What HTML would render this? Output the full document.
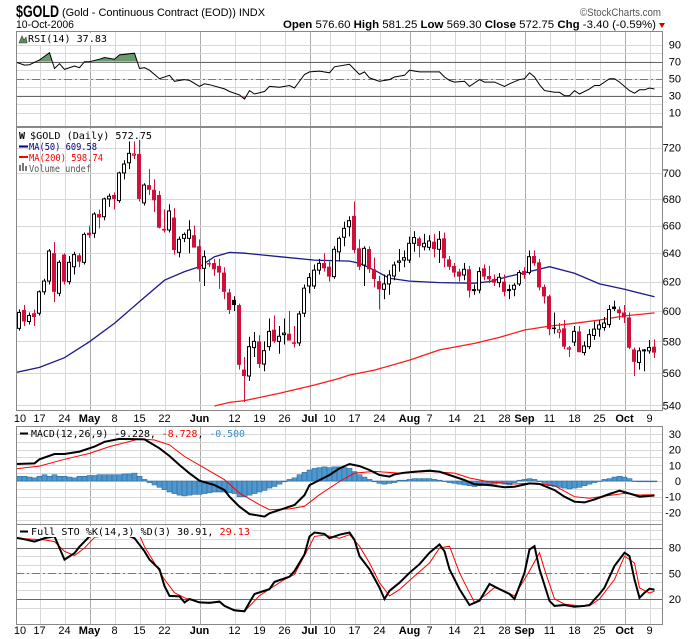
<!DOCTYPE html>
<html><head><meta charset="utf-8"><style>
html,body{margin:0;padding:0;background:#fff;}
svg{display:block;}
.ax{font-family:"Liberation Sans",sans-serif;font-size:11px;fill:#000;}
.lg{font-family:"DejaVu Sans Mono","Liberation Mono",monospace;font-size:10px;}
</style></head><body>
<svg id="chart" width="700" height="639" viewBox="0 0 700 639" xmlns="http://www.w3.org/2000/svg">
<defs>
<clipPath id="clipRsi"><rect x="16" y="31" width="646" height="96"/></clipPath>
<clipPath id="clipMain"><rect x="16" y="127" width="646" height="283"/></clipPath>
<clipPath id="clipMacd"><rect x="16" y="426" width="646" height="98"/></clipPath>
<clipPath id="clipSto"><rect x="16" y="524" width="646" height="100"/></clipPath>
</defs>
<rect x="0" y="0" width="700" height="639" fill="#fff"/>
<text x="16" y="17" font-family="Liberation Sans,sans-serif" font-weight="bold" font-size="17" textLength="43" lengthAdjust="spacingAndGlyphs">$GOLD</text>
<text x="62" y="16" class="ax" font-size="11" textLength="203" lengthAdjust="spacingAndGlyphs">(Gold - Continuous Contract (EOD)) INDX</text>
<text x="580" y="16" class="ax" fill="#555" style="fill:#555" textLength="81" lengthAdjust="spacingAndGlyphs">©StockCharts.com</text>
<text x="16" y="28" class="ax" textLength="58" lengthAdjust="spacingAndGlyphs">10-Oct-2006</text>
<text x="283" y="28" class="ax" textLength="373" lengthAdjust="spacingAndGlyphs"><tspan font-weight="bold">Open</tspan> 576.60 <tspan font-weight="bold">High</tspan> 581.25 <tspan font-weight="bold">Low</tspan> 569.30 <tspan font-weight="bold">Close</tspan> 572.75 <tspan font-weight="bold">Chg</tspan> -3.40 (-0.59%)</text>
<polygon points="659,23 665,23 662,28" fill="#cc0000"/>
<g id="grid"></g>
<g id="rsiG" clip-path="url(#clipRsi)"></g>
<g id="mainG" clip-path="url(#clipMain)"></g>
<g id="macdG" clip-path="url(#clipMacd)"></g>
<g id="stoG" clip-path="url(#clipSto)"></g>
<g id="frames" fill="none" stroke="#888" stroke-width="1">
<rect x="16.5" y="31.5" width="646" height="95"/>
<rect x="16.5" y="127.5" width="646" height="283"/>
<rect x="16.5" y="426.5" width="646" height="98"/>
<rect x="16.5" y="524.5" width="646" height="100"/>
</g>
<g id="axes"></g>
<g>
<rect x="18" y="33" width="92" height="12" fill="#fff"/>
<polygon points="19,43 22,36 24,40 26,37 27,43" fill="#5f8f5f" stroke="#333" stroke-width="0.6"/>
<text x="28" y="42" class="lg" textLength="79" lengthAdjust="spacingAndGlyphs">RSI(14) 37.83</text>
</g>
<g>
<rect x="18" y="129" width="136" height="11" fill="#fff" fill-opacity="0.8"/>
<text x="19" y="139" class="lg" font-weight="bold" font-size="9">W</text>
<text x="30" y="139" class="lg" textLength="122" lengthAdjust="spacingAndGlyphs">$GOLD (Daily) 572.75</text>
<line x1="19" y1="146.5" x2="28" y2="146.5" stroke="#000080" stroke-width="2"/>
<text x="29" y="150" class="lg" fill="#000080" textLength="68" lengthAdjust="spacingAndGlyphs">MA(50) 609.58</text>
<line x1="19" y1="157" x2="28" y2="157" stroke="#ff0000" stroke-width="2"/>
<text x="29" y="161" class="lg" fill="#ff0000" textLength="74" lengthAdjust="spacingAndGlyphs">MA(200) 598.74</text>
<rect x="19" y="165" width="2" height="6" fill="#777"/><rect x="22" y="163" width="2" height="8" fill="#777"/><rect x="25" y="166" width="2" height="5" fill="#777"/>
<text x="29" y="172" class="lg" fill="#555" textLength="62" lengthAdjust="spacingAndGlyphs">Volume undef</text>
</g>
<g>
<line x1="20" y1="433.5" x2="28" y2="433.5" stroke="#000" stroke-width="2"/>
<text x="31" y="437" class="lg" textLength="214" lengthAdjust="spacingAndGlyphs">MACD(12,26,9) -9.228, <tspan fill="#ff0000">-8.728</tspan>, <tspan fill="#3a8fc8">-0.500</tspan></text>
</g>
<g>
<rect x="18" y="526" width="234" height="11" fill="#fff"/>
<line x1="20" y1="531.5" x2="28" y2="531.5" stroke="#000" stroke-width="2"/>
<text x="31" y="535" class="lg" textLength="219" lengthAdjust="spacingAndGlyphs">Full STO %K(14,3) %D(3) 30.91, <tspan fill="#ff0000">29.13</tspan></text>
</g>
</svg>
<script>
// ---------- data ----------
const firstIndex = -1; // Apr 10 2006 (clipped at left edge)
const candleOpen = [596,588.5,600.7,593,598.5,598.5,613,620.4,640,612,639,620,630.4,638.5,633.5,654.8,654.4,668.6,666.6,680,683,678.7,700,708,714,715,677,690.6,687,683,657.5,656.8,666,640.6,650.7,650.7,653,645,629.3,633,633,631,626.3,612.6,607.5,604,562,558,576,580,565.5,576.6,587.6,580,584.4,585,579.4,579,598.5,617,617,628,633,630.4,623.5,641,651.5,659.2,667.2,643.5,631.6,643,628.6,620.4,614.7,618.4,623.9,633.5,635.1,635.1,647.1,650.7,644.6,644.2,648.3,642.8,650.7,635.6,630.9,627,624.6,628.6,614,614.2,629.3,623.9,621.8,619.3,620,614,614.7,618.4,627.5,626.3,638,633.5,616.4,610,589,586,588.5,575,579.6,586.5,572.8,576.6,583.8,588,589,591,603,601,599,595.7,574.8,566.5,573.9,573.9,576.6];
const candleHigh = [598,601,604,599,601,614,622,643,648,635,640,638,641,640,655,660,670,672,681,684,685,701,710,725,725,730,692,703,695,686,672,676,673,652,655,664,660,650,642,636,636,636,630,615,610,605,570,583,586,584,580,595,597,590,595,600,590,600,618,626,632,636,640,634,645,652,663,667,678,650,645,645,637,624,625,628,634,643,642,652,656,652,654,653,654,656,655,638,633,629,633,631,618,630,632,631,625,626,625,618,619,628,630,642,642,636,618,611,599,592,594,577,590,590,580,588,593,594,596,604,607,603,604,599,576,576,575,581,581.25];
const candleLow = [587,587,590,591,590,597,611,618,606,610,618,618,625,630,632,651,651,658,664,674,672,677,695,703,711,678,675,683,670,658,655,655,639,637,648,640,645,620,617,630,624,615,608,598,600,562,542,555,570,563,561,574,579,572,578,582,576,577,596,612,615,625,627,620,622,634,645,652,640,628,617,626,616,601,608,611,621,627,630,633,641,637,642,642,637,633,630,628,623,620,621,609,611,612,621,619,617,616,610,608,610,617,622,625,631,614,605,584,585,582,575,570,577,573,571,575,581,583,587,589,600,594,592,575,558,562,561,572,569.3];
const candleClose = [589,599,593,597,596,613,620.4,641.6,613,633.5,620,633.5,639,634,653.6,653,668.6,666,680,682,680,700,707,715.5,715,680,690.6,687,679,658.5,656.8,670.9,642.3,650,653.6,656.8,644,628.6,637.5,632,628.6,626.3,613,600.7,604,565,558,576.6,580,565.5,574,586.5,580,583.3,585.4,580.5,578.4,598,615.5,622.8,628,632.8,629.3,623.5,642.8,650.7,658,663.7,642.3,630.4,643.5,628.6,621.8,614.7,618.4,624.6,631.6,634.5,636.8,647.1,651.3,645.2,647.1,648.8,643,650,636.4,630.4,626.3,623.5,628.6,613.8,614.5,627,623.5,621.6,619.3,623,613,614.5,617.5,626.3,624.6,637.5,632.8,616,609.8,588,588.3,587.5,576.6,575.8,586.5,573,577,584.4,588,590.8,592,601,601.3,598.5,595.7,575.9,566.9,573.9,574.5,576,572.75];
const histVal = [3,3,3,2.5,2,3,4,3,4,3,3,2.5,2,3,3,3.5,3.5,4,4,4,4,4,4.5,4.5,5,3,1,-1,-2.5,-4,-5.5,-7,-8,-9,-9.5,-9,-8.5,-8.5,-8,-7.5,-7,-7,-7,-7.5,-8,-10,-10,-9,-8,-7,-6,-4.5,-3.5,-2,-0.5,1,2,4,5.5,7,8,8.5,9,8.5,9,9,8.5,8,6,4,2.5,1,-0.5,-1.5,-2,-1.5,-1,0.5,0.5,1,1.5,1.5,1.5,1.5,1,0.5,0,-1,-1.5,-2,-2.5,-3,-3.5,-3,-2.5,-2,-2,-1.5,-2,-2.5,-1,0.5,1,1.5,1,-0.5,-1.5,-3,-3.5,-4,-4.5,-5,-4.5,-4,-3,-2,-1,0,1,1.5,2.5,3,2.5,1.5,0,-0.5,-0.5,-0.5,-0.5];

const ma50Idx = [-1,4,9,14,19,24,29,33,36,39,42,45,52,59,66,68,71,74,78,84,91,94,98,101,106,111,116,121,127];
const ma50Val = [560,563.4,569.5,579.8,591.8,606.3,621,627,630.4,637.5,640.6,640,637.5,635.1,634.4,632.8,628,622.3,620.4,619.3,618.9,620,623.8,626.2,630.4,625.8,618.4,614.7,609.58];
const ma200Idx = [39,42,45,52,59,64,66,71,78,84,91,96,101,106,111,116,121,127];
const ma200Val = [539.6,541.8,542.9,547.3,552.4,556.5,558.6,561.7,568,574.5,578.7,582.6,587.4,590,591.8,594,596.7,598.74];

const rsiIdx = [-1,1,2,4,6,7,8,9,11,12,13,14,16,17,19,20,23,24,25,26,28,30,31,33,34,36,37,38,41,42,44,45,46,47,49,50,52,54,55,57,58,60,62,63,66,68,69,70,72,74,75,77,78,80,82,84,85,86,87,89,90,92,93,95,97,98,100,101,102,103,104,105,107,108,109,110,111,112,114,115,116,118,119,120,122,123,124,125,126,127];
const rsiVal = [70,66,66.5,72,80.6,62,67.6,61,65,63,70,70,73,75,73,78,80,62,63,60,50,54,47,49,48,41,44,43,38,35,31,26,36,32,35,41,40,42,39,55,58,59,57,64,67,55,58,51,47,49,52,54,60,58,58,58,52,48,46,47,41,49,46,46,41,44,49,50,57,52,43,36,34,34,30,30,36,32,38,42,42,50,50,46,36,33,37,37,39,37.83];

const macdIdx = [-1,3,4,7,9,12,15,17,20,25,28,30,32,34,36,39,41,42,44,46,49,50,53,55,57,58,60,62,64,66,68,70,72,74,75,77,79,82,84,86,89,91,94,97,99,102,104,107,109,111,113,115,118,120,123,124,127];
const macdVal = [10.8,11.2,13.8,17.2,17.2,18.7,21.9,25,26.8,26.5,20.8,15.9,10.2,4.9,0.2,-2.6,-5.8,-10,-16.4,-21,-22.7,-20.6,-17.4,-15.3,-9,-2.6,0.6,3.8,8,10.8,9.5,7,3.8,2.8,4.2,5.3,5.9,6.6,5.9,3.8,0.6,-2.1,-2.6,-4,-3.6,-1.5,-1.9,-5.8,-10,-13.2,-13.6,-11.7,-8.3,-6.2,-8.9,-10,-9.228];
const signalIdx = [-1,4,9,14,18,24,27,30,33,37,41,44,48,50,54,57,60,64,67,71,76,82,87,90,94,99,103,107,111,114,117,121,124,127];
const signalVal = [7.7,9.5,13.8,17.6,21.9,26.8,26.1,23,15.6,8.2,0.8,-7.7,-15.1,-18.3,-17.8,-16.1,-8.7,-0.3,5,6.1,5,6.1,5,1.9,-0.6,-1.9,-1.3,-3,-10,-11,-9.6,-7.9,-8.9,-8.728];

const stoKIdx = [-1,1,3,5,7,8,9,11,12,14,16,20,23,25,26,28,29,30,32,33,34,36,38,40,41,43,45,46,47,50,51,54,55,57,58,59,61,62,64,66,67,68,70,72,73,74,76,78,80,82,84,85,86,88,90,92,94,96,98,99,101,102,103,104,106,107,109,111,113,114,116,117,119,121,122,123,124,125,126,127];
const stoKVal = [92,89.7,87,91,93,79.5,66,73.6,81,93,96,98,91,75.7,66,54.6,35,23.6,23,16,20,16,15.5,17,12,6.7,5.6,16,25.8,31.6,40,46,52.7,72,93,97.6,96,91,95,97.6,89,70,54.6,33.3,20,29.6,39,50.6,60.6,74,83.6,75.7,54.6,31.6,13,18,37.5,31.6,25.8,20,50.6,77.8,81.6,54.6,17.8,12,13,11,12,13,25.8,33.3,58.6,74,70,42.7,21.4,27.4,32,30.91];
const stoDIdx = [-1,5,7,9,11,13,15,20,24,25,27,29,31,33,36,40,42,45,48,50,53,55,58,59,61,64,66,68,70,72,74,76,79,82,84,86,88,90,91,93,95,97,99,102,104,105,107,109,112,114,116,119,121,123,124,126,127];
const stoDVal = [91,89,87,75.7,70.8,79.5,92,96,94.6,81,62,42.7,27.4,21.4,16.4,16,8.6,5.6,23.9,31.6,42.7,48.7,81.6,93,94.6,91,95,81.6,62,39,23.6,31,46.8,62,79.5,81.6,50.6,27.4,16,23.6,33.3,29.4,23.6,52.7,74,54.6,20,14,12,12,20,42.7,70,62,33,27,29.13];

const priceTicks = [540,560,580,600,620,640,660,680,700,720];
const rsiTicks = [10,30,50,70,90];
const macdTicks = [-20,-10,0,10,20,30];
const stoTicks = [20,50,80];
const dateLabels = ['10','17','24','May','8','15','22','Jun','12','19','26','Jul','10','17','24','Aug','7','14','21','28','Sep','11','18','25','Oct','9'];
const dateIdx = [-1,4,9,14,19,24,29,36,43,48,53,58,62,67,72,78,82,87,92,97,101,106,111,116,121,126];

// ---------- axis functions ----------
const L = 16, R = 662;
const xDay = i => 19.5 + 5 * i;
const yPrice = p => 311 - 895.6 * Math.log(p / 600);
const yRsi = v => 95.7 - (v - 30) * 0.85;
const yMacd = v => 481 - v * 1.57;
const ySto = v => 599 - (v - 20) * 0.857;

const NS = 'http://www.w3.org/2000/svg';
function mk(tag, attrs, parent) {
  const e = document.createElementNS(NS, tag);
  for (const k in attrs) e.setAttribute(k, attrs[k]);
  parent.appendChild(e);
  return e;
}
const grid = document.getElementById('grid');
const axes = document.getElementById('axes');
const rsiG = document.getElementById('rsiG');
const mainG = document.getElementById('mainG');
const macdG = document.getElementById('macdG');
const stoG = document.getElementById('stoG');
const panels = [[31,127],[127,410],[426,524],[524,624]];

// vertical gridlines
dateIdx.forEach((d, k) => {
  const x = Math.round(xDay(d)) + 0.5;
  if (x <= L + 1) return;
  const isMonth = isNaN(+dateLabels[k]);
  panels.forEach(p => {
    const ln = mk('line', {x1:x, x2:x, y1:p[0], y2:p[1], stroke: isMonth ? '#aaaaaa' : '#d8d8d8', 'stroke-width':1}, grid);
    
    
  });
});
function hline(y, color, dash, name) {
  const ln = mk('line', {x1:L, x2:R, y1:Math.round(y)+0.5, y2:Math.round(y)+0.5, stroke:color, 'stroke-width':1}, grid);
  if (dash) ln.setAttribute('stroke-dasharray', dash);
  
  
}
for (let v = 10; v <= 90; v += 10) hline(yRsi(v), '#d8d8d8', null, 'rsi-gridline');
for (let p = 540; p <= 720; p += 20) hline(yPrice(p), '#d8d8d8', null, 'price-gridline');
for (let v = -25; v <= 30; v += 5) hline(yMacd(v), '#d8d8d8', null, 'macd-gridline');
for (let v = 10; v <= 100; v += 10) hline(ySto(v), '#d8d8d8', null, 'sto-gridline');
hline(yRsi(70), '#666', null, 'rsi-overbought-line');
hline(yRsi(30), '#666', null, 'rsi-oversold-line');
hline(yRsi(50), '#777', '8,3,2,3', 'rsi-midline');
hline(ySto(80), '#666', null, 'sto-overbought-line');
hline(ySto(20), '#666', null, 'sto-oversold-line');
hline(ySto(50), '#777', '8,3,2,3', 'sto-midline');

// right axis labels
function ylab(y, txt, name) {
  const t = mk('text', {x:681, y:y + 4, 'text-anchor':'end', class:'ax'}, axes);
  t.textContent = txt;
  
  
}
priceTicks.forEach(p => ylab(yPrice(p), String(p), 'price-tick-label'));
rsiTicks.forEach(v => ylab(yRsi(v), String(v), 'rsi-tick-label'));
macdTicks.forEach(v => ylab(yMacd(v), String(v), 'macd-tick-label'));
stoTicks.forEach(v => ylab(ySto(v), String(v), 'sto-tick-label'));

// date labels (two rows)
[422, 634].forEach(by => {
  dateLabels.forEach((lab, k) => {
    const x = Math.max(20, xDay(dateIdx[k]));
    const isMonth = isNaN(+lab);
    const t = mk('text', {x:x, y:by, 'text-anchor':'middle', class:'ax', 'font-weight': isMonth ? 'bold' : 'normal'}, axes);
    t.textContent = lab;
    
    
  });
});

function pathFrom(idx, val, xf, yf) {
  return idx.map((d, k) => (k ? 'L' : 'M') + xf(d).toFixed(1) + ',' + yf(val[k]).toFixed(1)).join('');
}

// RSI
const rsiD = pathFrom(rsiIdx, rsiVal, xDay, yRsi);
const x0 = xDay(rsiIdx[0]).toFixed(1), x1 = xDay(rsiIdx[rsiIdx.length-1]).toFixed(1);
const cu = mk('clipPath', {id:'rsiUp'}, rsiG); mk('rect', {x:0, y:0, width:700, height:yRsi(70)}, cu);
const cd = mk('clipPath', {id:'rsiDn'}, rsiG); mk('rect', {x:0, y:yRsi(30), width:700, height:100}, cd);
const fu = mk('path', {d: rsiD + 'L' + x1 + ',' + yRsi(70) + 'L' + x0 + ',' + yRsi(70) + 'Z', fill:'#6b9a6b', 'clip-path':'url(#rsiUp)'}, rsiG);


const fd = mk('path', {d: rsiD + 'L' + x1 + ',' + yRsi(30) + 'L' + x0 + ',' + yRsi(30) + 'Z', fill:'#b07068', 'clip-path':'url(#rsiDn)'}, rsiG);


const rl = mk('path', {d: rsiD, fill:'none', stroke:'#000', 'stroke-width':1}, rsiG);



// moving averages
const m200 = mk('path', {d: pathFrom(ma200Idx, ma200Val, xDay, yPrice), fill:'none', stroke:'#ff1a1a', 'stroke-width':1.3}, mainG);


const m50 = mk('path', {d: pathFrom(ma50Idx, ma50Val, xDay, yPrice), fill:'none', stroke:'#1a1a8c', 'stroke-width':1.3}, mainG);



// candles
candleOpen.forEach((o, k) => {
  const i = firstIndex + k;
  const c = candleClose[k], h = candleHigh[k], l = candleLow[k];
  const prev = k > 0 ? candleClose[k-1] : 590;
  const up = c >= o, rising = c >= prev;
  const col = rising ? '#000' : '#d0103a';
  const x = xDay(i);
  const g = mk('g', {}, mainG);
  
  
  mk('line', {x1:x, x2:x, y1:yPrice(h), y2:yPrice(l), stroke:col, 'stroke-width':1}, g);
  const yt = yPrice(Math.max(o, c)), yb = yPrice(Math.min(o, c));
  if (up) {
    mk('rect', {x:x-2, y:yt, width:3, height:Math.max(1, yb-yt), fill:'#fff', stroke:col, 'stroke-width':1}, g);
  } else {
    mk('rect', {x:x-2.5, y:yt, width:4, height:Math.max(1.5, yb-yt), fill:col}, g);
  }
});

// MACD histogram + lines
histVal.forEach((v, k) => {
  const i = firstIndex + k;
  const y0 = yMacd(0), y1 = yMacd(v);
  const b = mk('rect', {x:xDay(i)-2.5, y:Math.min(y0,y1), width:5, height:Math.max(0.5, Math.abs(y1-y0)), fill:'#4f97cc', stroke:'#2a6ea6', 'stroke-width':0.6}, macdG);
  
  
});
const sg = mk('path', {d: pathFrom(signalIdx, signalVal, xDay, yMacd), fill:'none', stroke:'#ff0000', 'stroke-width':1}, macdG);


const ml = mk('path', {d: pathFrom(macdIdx, macdVal, xDay, yMacd), fill:'none', stroke:'#000', 'stroke-width':2}, macdG);



// Stochastics
const sd = mk('path', {d: pathFrom(stoDIdx, stoDVal, xDay, ySto), fill:'none', stroke:'#ff0000', 'stroke-width':1}, stoG);


const sk = mk('path', {d: pathFrom(stoKIdx, stoKVal, xDay, ySto), fill:'none', stroke:'#000', 'stroke-width':2}, stoG);


</script>
</body></html>
